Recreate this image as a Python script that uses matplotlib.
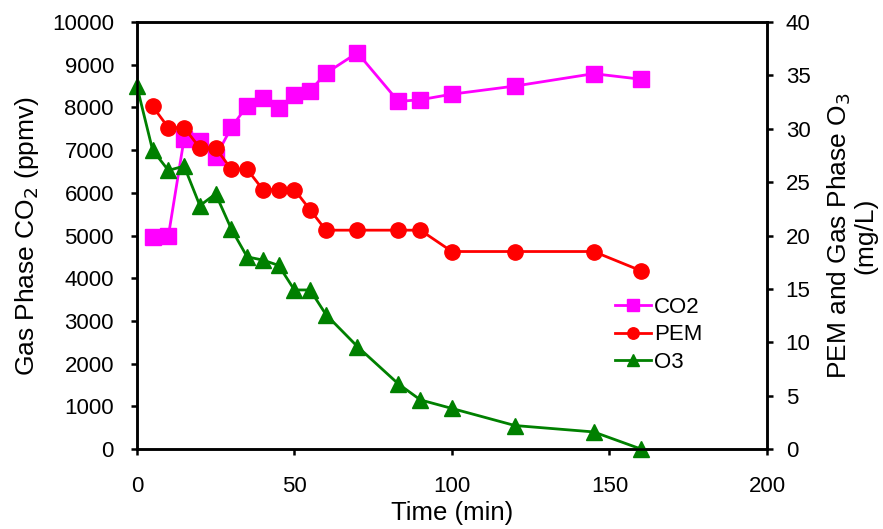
import matplotlib
matplotlib.use("Agg")
import matplotlib.pyplot as plt

plt.rcParams["font.family"] = ["Liberation Sans", "DejaVu Sans"]
plt.rcParams["font.size"] = 16

# data
co2_time = [5, 10, 15, 20, 25, 30, 35, 40, 45, 50, 55, 60, 70, 83, 90, 100, 120, 145, 160]
co2_ppmv = [4970, 4990, 7270, 7220, 6840, 7530, 8040, 8220, 7980, 8290, 8390, 8800, 9280, 8140, 8180, 8310, 8500, 8790, 8660]

pem_time = [5, 10, 15, 20, 25, 30, 35, 40, 45, 50, 55, 60, 70, 83, 90, 100, 120, 145, 160]
pem_mgl = [32.1, 30.1, 30.1, 28.2, 28.2, 26.2, 26.2, 24.3, 24.3, 24.3, 22.4, 20.5, 20.5, 20.5, 20.5, 18.5, 18.5, 18.5, 16.7]

o3_time = [0, 5, 10, 15, 20, 25, 30, 35, 40, 45, 50, 55, 60, 70, 83, 90, 100, 120, 145, 160]
o3_mgl = [34.0, 28.0, 26.1, 26.5, 22.8, 23.9, 20.6, 18.0, 17.7, 17.2, 14.9, 14.9, 12.6, 9.6, 6.1, 4.6, 3.8, 2.2, 1.6, 0.0]

fig = plt.figure(figsize=(8.83, 5.29), dpi=100)
ax1 = fig.add_axes([0.155, 0.1512, 0.7136, 0.8072])
ax2 = ax1.twinx()

l1, = ax1.plot(co2_time, co2_ppmv, color="#ff00ff", marker="s", markersize=11,
               linewidth=2, label="CO2", clip_on=False)
l2, = ax2.plot(pem_time, pem_mgl, color="#ff0000", marker="o", markersize=11,
               linewidth=2, label="PEM", clip_on=False)
l3, = ax2.plot(o3_time, o3_mgl, color="#008000", marker="^", markersize=11.5,
               linewidth=2, label="O3", clip_on=False)

ax1.set_xlim(0, 200)
ax1.set_ylim(0, 10000)
ax2.set_ylim(0, 40)
ax1.set_xticks(range(0, 201, 50))
ax1.set_yticks(range(0, 10001, 1000))
ax2.set_yticks(range(0, 41, 5))

for ax in (ax1, ax2):
    for sp in ax.spines.values():
        sp.set_linewidth(1.8)
    ax.tick_params(width=1.8, length=4.5, labelsize=16)
ax1.tick_params(axis="x", pad=15)
ax1.tick_params(axis="y", pad=12)
ax2.tick_params(axis="y", pad=9)

ax1.set_xlabel("Time (min)", fontsize=18.5, labelpad=3)
ax1.set_ylabel("Gas Phase CO$_2$ (ppmv)", fontsize=19, labelpad=8)
ax2.set_ylabel("PEM and Gas Phase O$_3$\n(mg/L)", fontsize=19, labelpad=11,
               linespacing=1.0)

ax2.legend(handles=[l1, l2, l3], loc="upper left", bbox_to_anchor=(0.684, 0.46),
           bbox_transform=fig.transFigure, frameon=False, fontsize=16,
           handlelength=1.6, handletextpad=0.15, labelspacing=0.3, borderpad=0,
           markerscale=0.75)

fig.savefig("out.png", dpi=100)
